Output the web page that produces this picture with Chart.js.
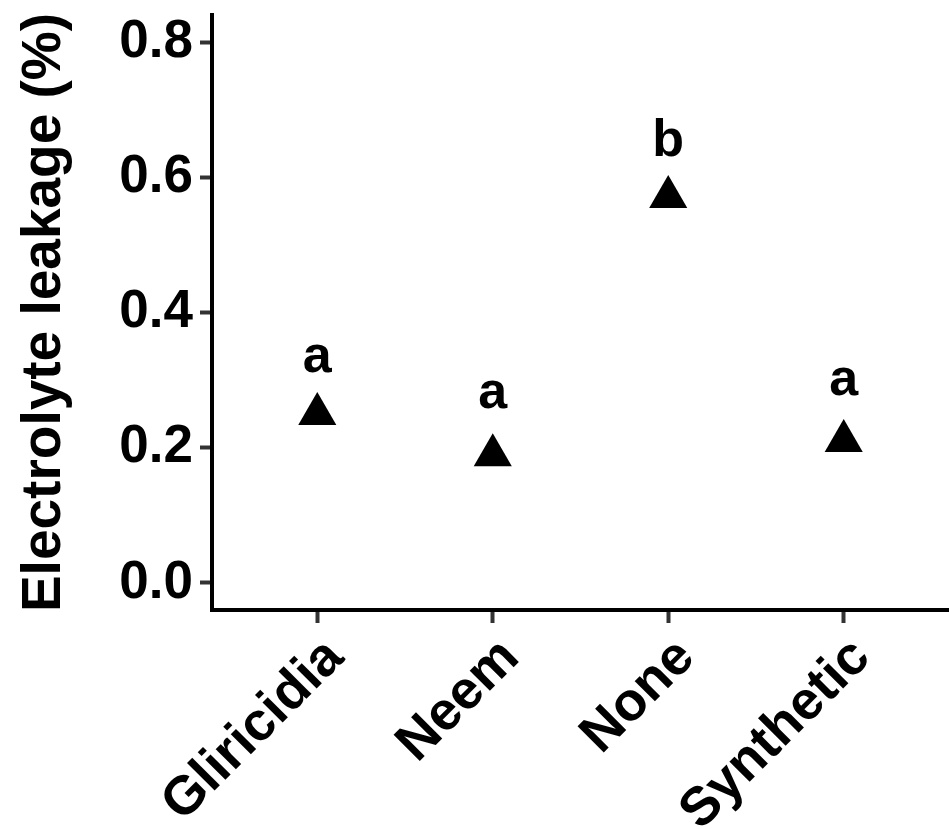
<!DOCTYPE html>
<html>
<head>
<meta charset="utf-8">
<script src="https://cdn.jsdelivr.net/npm/chart.js@4.4.1/dist/chart.umd.min.js"></script>
<style>
  body { margin: 0; background: #fff; }
  #wrap { width: 949px; height: 829px; }
</style>
</head>
<body>
<div id="wrap"><canvas id="graphCanvas"></canvas></div>
<script>
// Data
const categories = ["Gliricidia", "Neem", "None", "Synthetic"];
const leakage = [0.250, 0.189, 0.571, 0.210];
const groupLetters = ["a", "a", "b", "a"];
const letterY = [0.3126, 0.2593, 0.6311, 0.2785];
const yTicks = [0.0, 0.2, 0.4, 0.6, 0.8];

const FONT = "'Liberation Sans', Arial, Helvetica, sans-serif";

// Draw the significance letters above each triangle
const letterPlugin = {
    id: "letters",
    afterDatasetsDraw(chart) {
        const ctx = chart.ctx;
        const xs = chart.scales.x;
        const ys = chart.scales.y;
        ctx.save();
        ctx.fillStyle = "#000";
        ctx.font = "bold 52px " + FONT;
        ctx.textAlign = "center";
        ctx.textBaseline = "alphabetic";
        groupLetters.forEach((t, i) => {
            ctx.fillText(t, xs.getPixelForValue(i), ys.getPixelForValue(letterY[i]));
        });
        ctx.restore();
    }
};

const ctx = document.getElementById("graphCanvas").getContext("2d");
const chartInstance = new Chart(ctx, {
    type: "scatter",
    data: {
        datasets: [{
            data: leakage.map((v, i) => ({ x: i, y: v })),
            pointStyle: "triangle",
            pointRadius: 22,
            pointHoverRadius: 22,
            pointBackgroundColor: "#000",
            pointBorderWidth: 0
        }]
    },
    options: {
        responsive: true,
        maintainAspectRatio: false,
        animation: false,
        layout: { autoPadding: false, padding: { top: 15, right: 0, left: 0, bottom: 0 } },
        plugins: {
            legend: { display: false },
            tooltip: { enabled: false }
        },
        scales: {
            x: {
                type: "linear",
                min: -0.6,
                max: 3.6,
                afterBuildTicks: (scale) => {
                    scale.ticks = categories.map((c, i) => ({ value: i }));
                },
                // fixed height, no extra side padding
                afterFit: (scale) => {
                    scale.height = 219;
                    scale.paddingLeft = 0;
                    scale.paddingRight = 0;
                },
                border: { display: true, color: "#000", width: 4 },
                grid: {
                    drawOnChartArea: false,
                    drawTicks: true,
                    tickLength: 13,
                    tickWidth: 4,
                    tickColor: "#333"
                },
                ticks: {
                    autoSkip: false,
                    minRotation: 45,
                    maxRotation: 45,
                    padding: 3,
                    labelOffset: 18,
                    color: "#000",
                    font: { family: FONT, size: 54, weight: "bold" },
                    callback: (value) => categories[value]
                }
            },
            y: {
                min: -0.04,
                max: 0.84,
                afterBuildTicks: (scale) => {
                    scale.ticks = yTicks.map(v => ({ value: v }));
                },
                afterFit: (scale) => {
                    scale.width = 212;
                    scale.paddingTop = 0;
                    scale.paddingBottom = 0;
                },
                border: { display: true, color: "#000", width: 4 },
                grid: {
                    drawOnChartArea: false,
                    drawTicks: true,
                    tickLength: 12,
                    tickWidth: 4,
                    tickColor: "#333"
                },
                ticks: {
                    padding: 7,
                    color: "#000",
                    font: { family: FONT, size: 53, weight: "bold" },
                    callback: (value) => value.toFixed(1)
                },
                title: {
                    display: true,
                    text: "Electrolyte leakage (%)",
                    color: "#000",
                    font: { family: FONT, size: 55, weight: "bold", lineHeight: 1 },
                    padding: { top: 17, bottom: 4 }
                }
            }
        }
    },
    plugins: [letterPlugin]
});
</script>
</body>
</html>
